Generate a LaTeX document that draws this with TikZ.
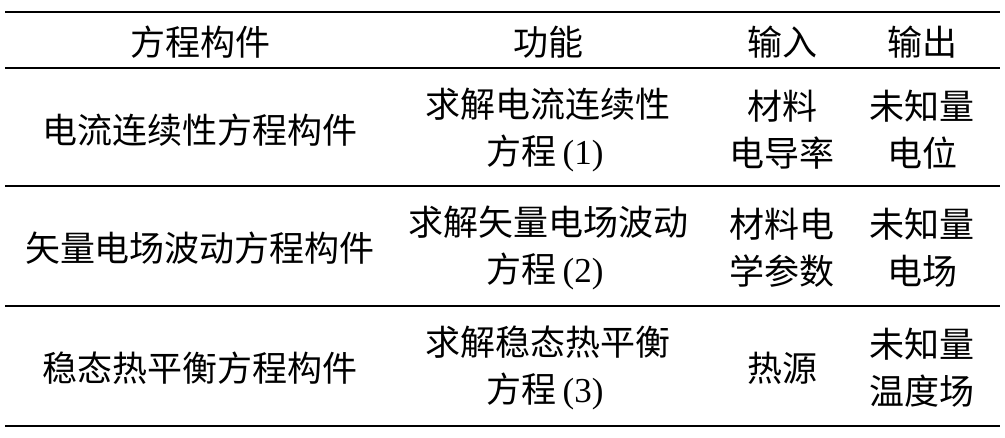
\documentclass[tikz,border=0pt]{standalone}
\usepackage{fontspec}
\setmainfont{Liberation Serif}
\newfontfamily\cjk{Noto Sans CJK SC}
\tikzset{
	cell/.style={font=\cjk\fontsize{35}{47}\selectfont,align=center,inner sep=0pt},
	thickrule/.style={line width=2.8pt},
	thinrule/.style={line width=1.4pt}
}
\newcommand{\num}[1]{{\rmfamily\,(#1)\,}}
\begin{document}
\begin{tikzpicture}[x=1pt,y=-1pt]
	\useasboundingbox (0,0) rectangle (1005,438);
	% rules
	\draw[thickrule] (5,12) -- (1000,12);
	\draw[thinrule] (5,68) -- (1000,68);
	\draw[thinrule] (5,186) -- (1000,186);
	\draw[thinrule] (5,306) -- (1000,306);
	\draw[thickrule] (5,426) -- (1000,426);
	% header
	\node[cell] (h1) at (200,42) {方程构件};
	\node[cell] (h2) at (548,42) {功能};
	\node[cell] (h3) at (782,42) {输入};
	\node[cell] (h4) at (922,42) {输出};
	% row 1
	\node[cell] (a1) at (200,130) {电流连续性方程构件};
	\node[cell] (a2) at (548,130) {求解电流连续性\\方程\num{1}};
	\node[cell] (a3) at (782,130) {材料\\电导率};
	\node[cell] (a4) at (922,130) {未知量\\电位};
	% row 2
	\node[cell] (b1) at (200,248) {矢量电场波动方程构件};
	\node[cell] (b2) at (548,248) {求解矢量电场波动\\方程\num{2}};
	\node[cell] (b3) at (782,248) {材料电\\学参数};
	\node[cell] (b4) at (922,248) {未知量\\电场};
	% row 3
	\node[cell] (c1) at (200,368) {稳态热平衡方程构件};
	\node[cell] (c2) at (548,368) {求解稳态热平衡\\方程\num{3}};
	\node[cell] (c3) at (782,368) {热源};
	\node[cell] (c4) at (922,368) {未知量\\温度场};
\end{tikzpicture}
\end{document}
